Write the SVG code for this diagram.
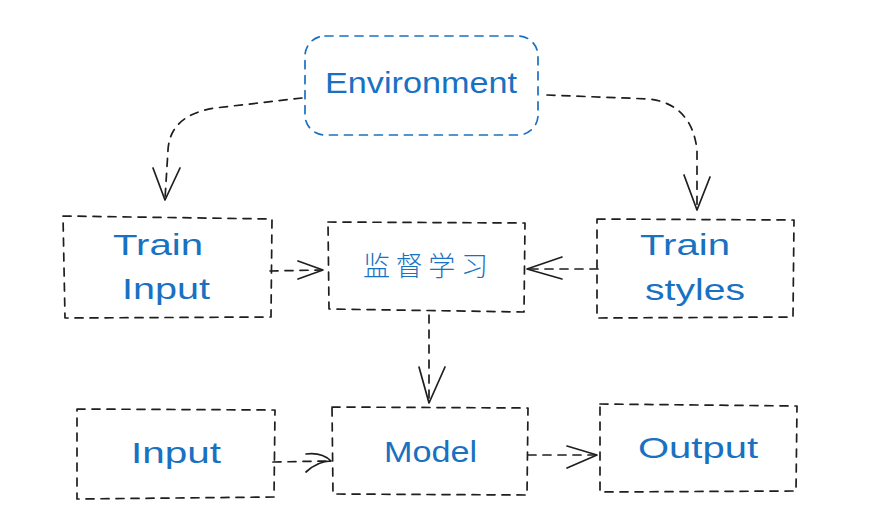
<svg xmlns="http://www.w3.org/2000/svg" width="870" height="532" viewBox="0 0 870 532">
<style>
.box{fill:none;stroke:#1e1e1e;stroke-width:1.7;stroke-dasharray:8 7;stroke-linecap:round;stroke-linejoin:round}
.envbox{fill:none;stroke:#1971c2;stroke-width:1.7;stroke-dasharray:8 7;stroke-linecap:round}
.line{fill:none;stroke:#1e1e1e;stroke-width:1.7;stroke-dasharray:8 7;stroke-linecap:round}
.head{fill:none;stroke:#1e1e1e;stroke-width:1.7;stroke-linecap:round;stroke-linejoin:round}
.lbl{fill:#1971c2;font-family:"Liberation Sans","Noto Sans",sans-serif;font-size:30px}
.cjk{fill:#1971c2;font-family:"Noto Sans CJK SC","Noto Sans",sans-serif;font-size:27px;font-weight:300}
</style>
<rect width="870" height="532" fill="#ffffff"/>
<g id="connectors">
  <path class="line" d="M302 98 L215 108 Q170 115 168 150 L165 199"/>
  <path class="head" d="M153 168 L165 200 L180 168"/>
  <path class="line" d="M547 95 L650 99 Q692 105 697 150 L697 209"/>
  <path class="head" d="M684 175 L697 210 L710 177"/>
  <path class="line" d="M270 271 L322 270"/>
  <path class="head" d="M298 261 L323 270 L298 279"/>
  <path class="line" d="M598 269 L528 269"/>
  <path class="head" d="M562 257 L527 269 L562 279"/>
  <path class="line" d="M429 315 L429 402"/>
  <path class="head" d="M419 367 L429 403 L445 367"/>
  <path class="line" d="M273 462 L330 461"/>
  <path class="head" d="M306 454 Q322 452 331 461 M306 472 Q318 461 331 461"/>
  <path class="line" d="M528 455 L596 455"/>
  <path class="head" d="M567 446 L597 455 L567 468"/>
</g>
<g id="environment">
  <rect class="envbox" x="305" y="36" width="233" height="99" rx="20" ry="20"/>
  <text class="lbl" x="325" y="93" textLength="192" lengthAdjust="spacingAndGlyphs">Environment</text>
</g>
<g id="train-input">
  <path class="box" d="M63 216 L272 219 L271 317 L65 318 Z"/>
  <text class="lbl" x="113" y="255" textLength="90" lengthAdjust="spacingAndGlyphs">Train</text>
  <text class="lbl" x="122" y="299" textLength="88" lengthAdjust="spacingAndGlyphs">Input</text>
</g>
<g id="supervised">
  <path class="box" d="M328 222 L525 223 L524 312 L329 309 Z"/>
  <text class="cjk" x="363" y="276" textLength="125" lengthAdjust="spacing">监督学习</text>
</g>
<g id="train-styles">
  <path class="box" d="M597 219 L794 220 L793 317 L597 318 Z"/>
  <text class="lbl" x="640" y="255" textLength="90" lengthAdjust="spacingAndGlyphs">Train</text>
  <text class="lbl" x="645" y="300" textLength="100" lengthAdjust="spacingAndGlyphs">styles</text>
</g>
<g id="input">
  <path class="box" d="M77 409 L275 410 L274 497 L77 499 Z"/>
  <text class="lbl" x="131" y="463" textLength="90" lengthAdjust="spacingAndGlyphs">Input</text>
</g>
<g id="model">
  <path class="box" d="M332 407 L528 408 L527 495 L333 494 Z"/>
  <text class="lbl" x="384" y="462" textLength="93" lengthAdjust="spacingAndGlyphs">Model</text>
</g>
<g id="output">
  <path class="box" d="M600 404 L797 406 L796 491 L600 492 Z"/>
  <text class="lbl" x="638" y="458" textLength="120" lengthAdjust="spacingAndGlyphs">Output</text>
</g>
</svg>
